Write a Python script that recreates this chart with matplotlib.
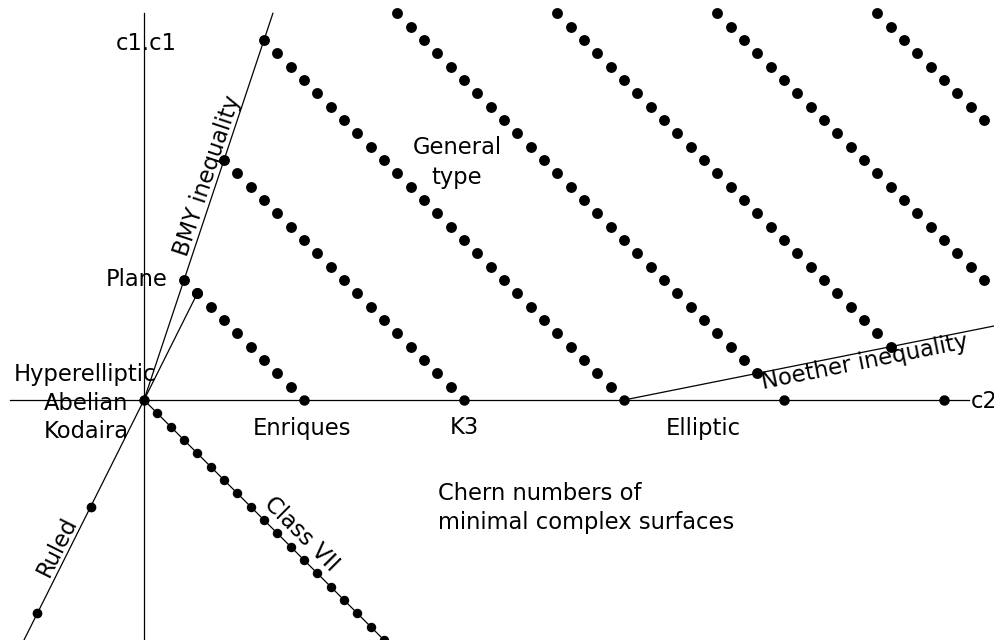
import matplotlib.pyplot as plt

# Chern numbers (c2, c1.c1) of minimal complex surfaces

# general type dots sit on the lines c1.c1 + c2 = 12k, one dot per integer c1.c1
diag_sums = [12, 24, 36, 48, 60, 72, 84]
diag_c1sq_first = [1, 1, 1, 2, 4, 9, 21]
diag_c1sq_last = [8, 18, 27, 29, 29, 29, 29]

# dots on the c2 axis (Kodaira/abelian, Enriques, K3, elliptic)
axis_c2 = [0, 12, 24, 36, 48, 60]

# special points
plane = (3, 9)
hirzebruch = (4, 8)
ruled_c2 = [-4, -8]
ruled_c1sq = [-8, -16]
class7_c2 = list(range(1, 19))
class7_c1sq = [-v for v in class7_c2]

# boundary lines
bmy_c2 = [0, 29 / 3]
bmy_c1sq = [0, 29]
ruled_line_c2 = [-9, 4]
ruled_line_c1sq = [-18, 8]
noether_c2 = [36, 64]
noether_c1sq = [0, 5.6]

# pixel scale of the picture: 160 px per 12 units, origin at (144, 400)
PX = 160 / 12


def px2data(px, py):
    return (px - 144) / PX, (400 - py) / PX


if __name__ == '__main__':
    fig = plt.figure(figsize=(9.94, 6.40), dpi=100)
    ax = fig.add_axes([0, 0, 1, 1])
    ax.set_xlim(-144 / PX, (994 - 144) / PX)
    ax.set_ylim(-240 / PX, 400 / PX)
    ax.axis('off')

    lw = 0.9
    # axes
    ax.plot([px2data(10, 0)[0], px2data(969, 0)[0]], [0, 0], color='black', lw=lw)
    ax.plot([0, 0], [-18, px2data(0, 13)[1]], color='black', lw=lw)

    # boundary lines
    ax.plot(bmy_c2, bmy_c1sq, color='black', lw=lw)
    ax.plot(ruled_line_c2, ruled_line_c1sq, color='black', lw=lw)
    ax.plot(noether_c2, noether_c1sq, color='black', lw=lw)
    ax.plot([0, 18], [0, -18], color='black', lw=lw)

    # general type dots
    for s, lo, hi in zip(diag_sums, diag_c1sq_first, diag_c1sq_last):
        c1sq = list(range(lo, hi + 1))
        c2 = [s - v for v in c1sq]
        ax.plot(c2, c1sq, 'o', color='black', ms=6.8, ls='none')

    ax.plot(axis_c2, [0] * len(axis_c2), 'o', color='black', ms=6.5, ls='none')
    ax.plot([plane[0], hirzebruch[0]], [plane[1], hirzebruch[1]], 'o',
            color='black', ms=6.8, ls='none')
    ax.plot(ruled_c2, ruled_c1sq, 'o', color='black', ms=6, ls='none')
    ax.plot(class7_c2, class7_c1sq, 'o', color='black', ms=5.8, ls='none')

    fs = 16.3
    txt = dict(fontsize=fs, color='black', va='center')

    ax.text(*px2data(116, 43), 'c1.c1', ha='left', **txt)
    ax.text(*px2data(971, 401), 'c2', ha='left', **txt)
    ax.text(*px2data(457, 148), 'General', ha='center', **txt)
    ax.text(*px2data(457, 177), 'type', ha='center', **txt)
    ax.text(*px2data(168, 280), 'Plane', ha='right', **txt)
    ax.text(*px2data(85, 374), 'Hyperelliptic', ha='center', **txt)
    ax.text(*px2data(86, 403), 'Abelian', ha='center', **txt)
    ax.text(*px2data(86, 432), 'Kodaira', ha='center', **txt)
    ax.text(*px2data(302, 428), 'Enriques', ha='center', **txt)
    ax.text(*px2data(464, 428), 'K3', ha='center', **txt)
    ax.text(*px2data(703, 428), 'Elliptic', ha='center', **txt)
    ax.text(*px2data(438, 493), 'Chern numbers of', ha='left', **txt)
    ax.text(*px2data(438, 523), 'minimal complex surfaces', ha='left', **txt)

    # labels along the lines
    ax.text(*px2data(208, 176), 'BMY inequality', ha='center', rotation=71.57,
            rotation_mode='anchor', **txt)
    ax.text(*px2data(865, 362), 'Noether inequality', ha='center', rotation=11.31,
            rotation_mode='anchor', **txt)
    ax.text(*px2data(57, 547), 'Ruled', ha='center', rotation=63.43,
            rotation_mode='anchor', **txt)
    ax.text(*px2data(301, 534), 'Class VII', ha='center', rotation=-45,
            rotation_mode='anchor', **txt)

    plt.savefig('out.png', dpi=100)
    plt.close()
